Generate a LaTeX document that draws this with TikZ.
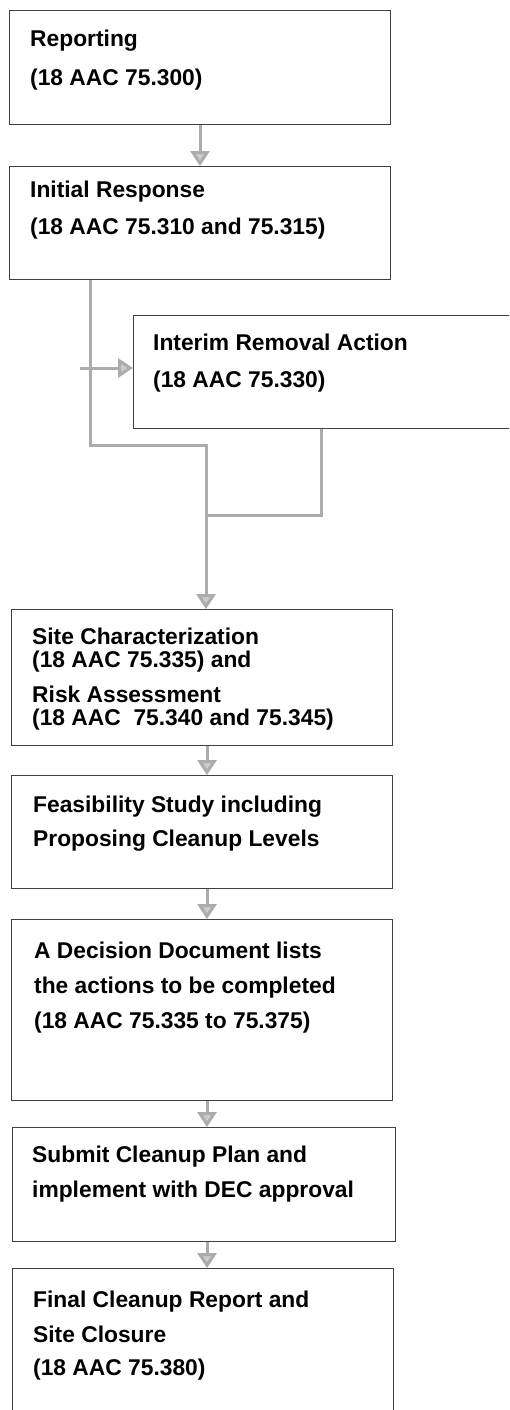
\documentclass[tikz,border=0pt]{standalone}
\usepackage{fontspec}
\setmainfont{Liberation Sans}
\usetikzlibrary{arrows.meta,calc}
\begin{document}
\begin{tikzpicture}[x=1pt,y=-1pt,
  box/.style={draw=black!75,line width=1pt,rectangle,inner sep=0pt,anchor=north west},
  txt/.style={anchor=base west,inner sep=0pt,font=\fontsize{22.8}{26}\selectfont\bfseries},
  conn/.style={draw=gray!65,line width=3pt},
  arr/.style={conn,-{Triangle[width=19pt,length=15pt,fill=gray!40]}}]
\useasboundingbox (0,0) rectangle (509,1410);
\clip (0,0) rectangle (509,1410);
% boxes
\node[box,minimum width=381pt,minimum height=114pt] (rep) at (9,10) {};
\node[box,minimum width=381pt,minimum height=113pt] (init) at (9,166) {};
\node[box,minimum width=420pt,minimum height=113pt] (interim) at (133,315) {};
\node[box,minimum width=381pt,minimum height=136pt] (site) at (11,609) {};
\node[box,minimum width=381pt,minimum height=113pt] (feas) at (11,775) {};
\node[box,minimum width=381pt,minimum height=181pt] (dec) at (11,919) {};
\node[box,minimum width=383pt,minimum height=114pt] (sub) at (12,1127) {};
\node[box,minimum width=381pt,minimum height=160pt] (fin) at (12,1268) {};
% texts
\node[txt] (r1) at (30,47) {Reporting};
\node[txt] (r2) at (30,86) {(18 AAC 75.300)};
\node[txt] (i1) at (30,197) {Initial Response};
\node[txt] (i2) at (30,234) {(18 AAC 75.310 and 75.315)};
\node[txt] (m1) at (153,350) {Interim Removal Action};
\node[txt] (m2) at (153,387) {(18 AAC 75.330)};
\node[txt] (s1) at (32,644) {Site Characterization};
\node[txt] (s2) at (32,667) {(18 AAC 75.335) and};
\node[txt] (s3) at (32,702) {Risk Assessment};
\node[txt] (s4) at (32,725) {(18 AAC \ 75.340 and 75.345)};
\node[txt] (f1) at (33,812) {Feasibility Study including};
\node[txt] (f2) at (33,846) {Proposing Cleanup Levels};
\node[txt] (d1) at (34,958) {A Decision Document lists};
\node[txt] (d2) at (34,993) {the actions to be completed};
\node[txt] (d3) at (34,1028) {(18 AAC 75.335 to 75.375)};
\node[txt] (u1) at (32,1162) {Submit Cleanup Plan and};
\node[txt] (u2) at (32,1197) {implement with DEC approval};
\node[txt] (n1) at (33,1307) {Final Cleanup Report and};
\node[txt] (n2) at (33,1342) {Site Closure};
\node[txt] (n3) at (33,1375) {(18 AAC 75.380)};
% connectors
\coordinate (ir) at ($(init.south west)+(81,0)$);
\coordinate (j1) at (206,445);
\coordinate (j2) at (206,515);
\coordinate (ib) at ($(interim.south west)+(188,0)$);
\coordinate (ia) at (80,368);
\coordinate (col) at (207,0);
\draw[arr] (rep.south) -- (init.north);
\draw[arr] (ir) |- (j1) -- (j1 |- site.north);
\draw[conn] (ib) |- (j2);
\draw[arr] (ia) -- (ia -| interim.west);
\draw[arr] (site.south -| col) -- (feas.north -| col);
\draw[arr] (feas.south -| col) -- (dec.north -| col);
\draw[arr] (dec.south -| col) -- (sub.north -| col);
\draw[arr] (sub.south -| col) -- (fin.north -| col);
\end{tikzpicture}
\end{document}
